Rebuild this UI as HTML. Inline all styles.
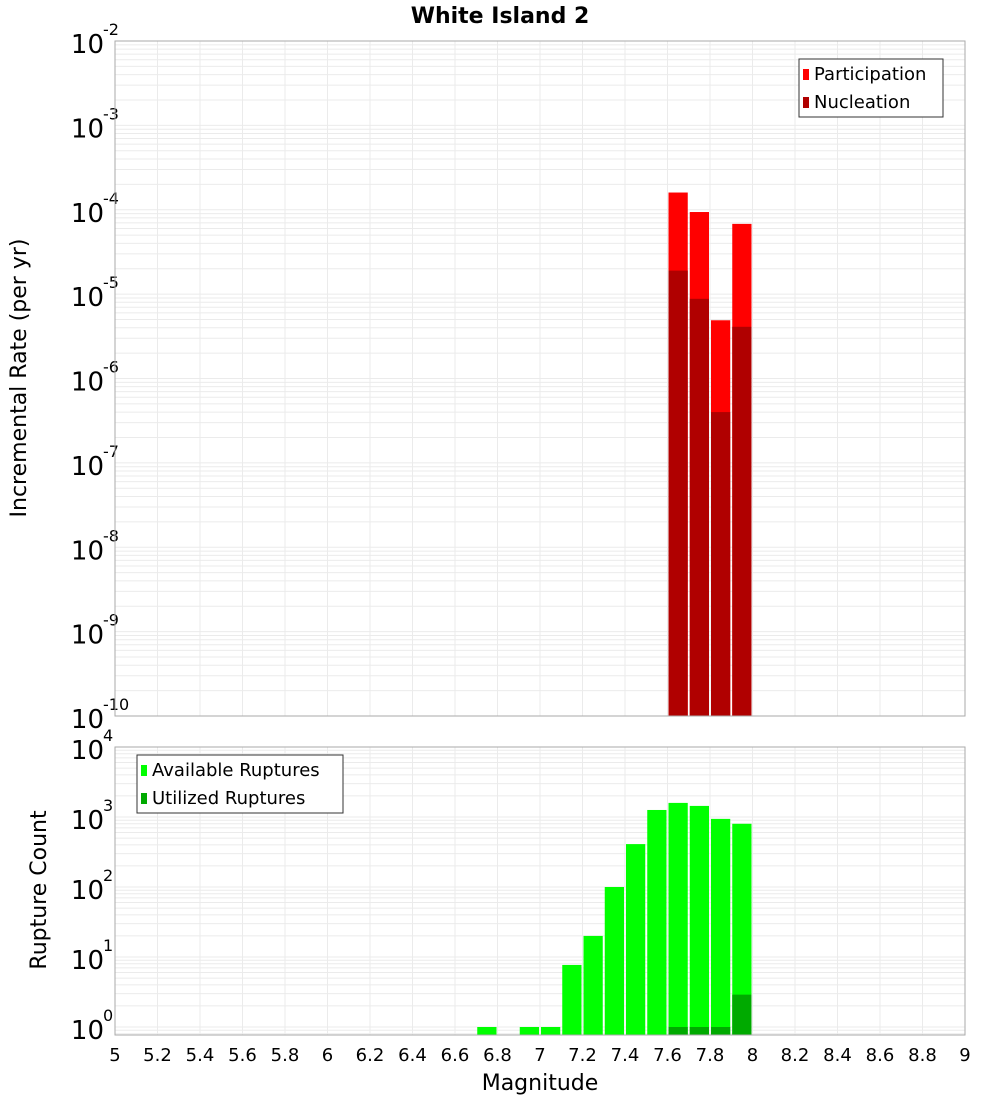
<!DOCTYPE html>
<html><head><meta charset="utf-8"><style>
body{margin:0;background:#fff}
svg text{font-family:"DejaVu Sans","Liberation Sans",sans-serif;fill:#000}
</style></head><body>
<svg id="c" width="1000" height="1100" xmlns="http://www.w3.org/2000/svg">
<text x="500" y="23" text-anchor="middle" font-size="22" font-weight="bold">White Island 2</text>
<g id="topPanel"></g>
<g id="botPanel"></g>
<text transform="translate(26,378) rotate(-90)" text-anchor="middle" font-size="22">Incremental Rate (per yr)</text>
<text transform="translate(46,890) rotate(-90)" text-anchor="middle" font-size="22">Rupture Count</text>
<text x="540" y="1090" text-anchor="middle" font-size="22">Magnitude</text>
</svg>
<script>
const magBins = [7.65, 7.75, 7.85, 7.95];
const participation = [1.6e-4, 9.4e-5, 4.9e-6, 6.8e-5];
const nucleation = [1.9e-5, 8.8e-6, 4.0e-7, 4.1e-6];
const countBins = [6.75, 6.95, 7.05, 7.15, 7.25, 7.35, 7.45, 7.55, 7.65, 7.75, 7.85, 7.95];
const available = [1, 1, 1, 7.7, 20, 100, 410, 1260, 1590, 1440, 940, 800];
const utilBins = [7.65, 7.75, 7.85, 7.95];
const utilized = [1, 1, 1, 2.9];
const xTicks = [5,5.2,5.4,5.6,5.8,6,6.2,6.4,6.6,6.8,7,7.2,7.4,7.6,7.8,8,8.2,8.4,8.6,8.8,9];
const topExps = [-10,-9,-8,-7,-6,-5,-4,-3,-2];
const botExps = [0,1,2,3,4];

const NS="http://www.w3.org/2000/svg";
const X0=115,X1=965;
const xs=m=>X0+(m-5)/4*(X1-X0);
const topY=v=>716-(Math.log10(v)+10)*(675/8);
const botY=v=>1027-Math.log10(v)*70;
function mk(p,tag,a){const e=document.createElementNS(NS,tag);for(const k in a)e.setAttribute(k,a[k]);p.appendChild(e);return e;}

function panel(g,yT,yB,yfn,lo,hi,exps,name){
  for(let d=lo;d<hi;d++)for(let k=1;k<10;k++){
    const y=yfn(k*Math.pow(10,d)); if(y<yT||y>yB)continue;
    const l=mk(g,'line',{x1:X0,x2:X1,y1:y,y2:y,stroke:'#ebebeb','stroke-width':1});
    
    
  }
  xTicks.forEach(t=>{
    const l=mk(g,'line',{x1:xs(t),x2:xs(t),y1:yT,y2:yB,stroke:'#ebebeb','stroke-width':1});
    
    
  });
  exps.forEach(e=>{
    const y=yfn(Math.pow(10,e));
    const t=mk(g,'text',{x:104,y:y+12,'text-anchor':'end','font-size':26});
    
    
    t.textContent='10';
    const s=mk(g,'text',{x:103,y:y-6,'font-size':16});
    
    
    s.textContent=String(e);
  });
}
function bar(g,c,v,yfn,yB,fill,name){
  const y=yfn(v);
  const r=mk(g,'rect',{x:xs(c-0.05)+1,y:y,width:xs(5.1)-X0-2,height:yB-y,fill:fill});
  
  
}
const topG=document.getElementById('topPanel'),botG=document.getElementById('botPanel');
panel(topG,41,716,topY,-10,-2,topExps,'top');
magBins.forEach((m,i)=>bar(topG,m,participation[i],topY,716,'#ff0000','participation-bar'));
magBins.forEach((m,i)=>bar(topG,m,nucleation[i],topY,716,'#b00000','nucleation-bar'));
let fr=mk(topG,'rect',{x:X0,y:41,width:X1-X0,height:675,fill:'none',stroke:'#aaa'});



panel(botG,747,1035,botY,-1,4,botExps,'bottom');
countBins.forEach((m,i)=>bar(botG,m,available[i],botY,1035,'#00ff00','available-bar'));
utilBins.forEach((m,i)=>bar(botG,m,utilized[i],botY,1035,'#00aa00','utilized-bar'));
fr=mk(botG,'rect',{x:X0,y:747,width:X1-X0,height:288,fill:'none',stroke:'#aaa'});


xTicks.forEach(t=>{
  const e=mk(botG,'text',{x:xs(t),y:1061,'text-anchor':'middle','font-size':18});
  
  
  e.textContent=String(t);
});
function legend(g,x,y,w,items,name){
  const b=mk(g,'rect',{x:x,y:y,width:w,height:58,fill:'#fff',stroke:'#333'});
  
  
  items.forEach((it,i)=>{
    const s=mk(g,'rect',{x:x+4,y:y+10+i*28,width:6,height:11,fill:it[1]});
    
    
    const t=mk(g,'text',{x:x+15,y:y+21+i*28,'font-size':18});
    
    
    t.textContent=it[0];
  });
}
legend(topG,799,59,144,[['Participation','#ff0000'],['Nucleation','#b00000']],'top-legend');
legend(botG,137,755,206,[['Available Ruptures','#00ff00'],['Utilized Ruptures','#00aa00']],'bottom-legend');
</script>
</body></html>
